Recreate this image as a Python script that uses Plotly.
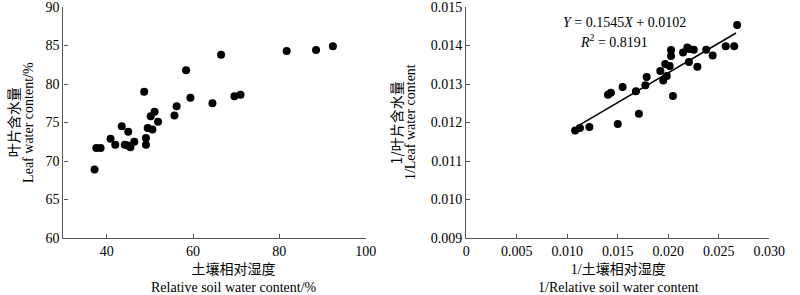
import plotly.graph_objects as go

# ---- data ----
soil_rh = [37.2, 37.6, 38.6, 40.9, 42.0, 43.5, 44.2, 45.0, 44.9, 45.5,
           46.4, 48.7, 49.1, 49.1, 49.5, 50.2, 50.6, 51.1, 51.9, 55.7,
           56.2, 58.4, 59.4, 64.5, 66.5, 69.6, 71.0, 81.7, 88.5, 92.4]
leaf_wc = [68.9, 71.7, 71.7, 72.9, 72.1, 74.5, 72.1, 73.8, 72.0, 71.8,
           72.5, 79.0, 73.0, 72.1, 74.3, 75.8, 74.1, 76.4, 75.1, 75.9,
           77.1, 81.8, 78.2, 77.5, 83.8, 78.4, 78.6, 84.3, 84.4, 84.9]

inv_soil = [0.01078, 0.01126, 0.01219, 0.01403, 0.01432, 0.01500, 0.01548, 0.01680,
            0.01709, 0.01773, 0.01786, 0.01921, 0.01950, 0.01969, 0.01985, 0.02014,
            0.02027, 0.02027, 0.02046, 0.02146, 0.02188, 0.02208, 0.02204, 0.02252,
            0.02288, 0.02375, 0.02439, 0.02568, 0.02652, 0.02681]
inv_leaf = [0.011793, 0.01186, 0.01188, 0.01272, 0.01277, 0.01196, 0.01292, 0.01281,
            0.01223, 0.01297, 0.01318, 0.01334, 0.01309, 0.01352, 0.01321, 0.01347,
            0.01388, 0.01373, 0.01269, 0.01382, 0.01395, 0.01391, 0.01357, 0.01389,
            0.01345, 0.01389, 0.01374, 0.01398, 0.01398, 0.01453]

fit_slope = 0.1545
fit_intercept = 0.0102
fit_x = [0.0109, 0.0267]

left_xticks = [40, 60, 80, 100]
left_yticks = [60, 65, 70, 75, 80, 85, 90]
right_xticks = [0, 0.005, 0.010, 0.015, 0.020, 0.025, 0.030]
right_xticktext = ["0", "0.005", "0.010", "0.015", "0.020", "0.025", "0.030"]
right_yticks = [0.009, 0.010, 0.011, 0.012, 0.013, 0.014, 0.015]
right_yticktext = ["0.009", "0.010", "0.011", "0.012", "0.013", "0.014", "0.015"]

FONT = "Liberation Serif, Times New Roman, Noto Sans CJK SC, serif"
CJK = "Noto Sans CJK SC, Liberation Serif, serif"

fig = go.Figure()
fig.add_trace(go.Scatter(x=soil_rh, y=leaf_wc, mode="markers",
                         marker=dict(color="black", size=8),
                         xaxis="x", yaxis="y", showlegend=False))
fig.add_trace(go.Scatter(x=inv_soil, y=inv_leaf, mode="markers",
                         marker=dict(color="black", size=8),
                         xaxis="x2", yaxis="y2", showlegend=False))
fig.add_trace(go.Scatter(x=fit_x, y=[fit_slope * v + fit_intercept for v in fit_x],
                         mode="lines", line=dict(color="black", width=1.5),
                         xaxis="x2", yaxis="y2", showlegend=False))

axis_common = dict(showline=True, linecolor="#555", linewidth=1.2, ticks="inside",
                   ticklen=4, tickcolor="#555", showgrid=False, zeroline=False,
                   ticklabeloverflow="allow",
                   tickfont=dict(family=FONT, size=14, color="black"))

fig.update_layout(
    width=800, height=295,
    margin=dict(l=0, r=0, t=6, b=57),
    plot_bgcolor="white", paper_bgcolor="white",
    font=dict(family=FONT, color="black"),
    xaxis=dict(domain=[61 / 800, 371 / 800], range=[30, 100], tickvals=left_xticks,
               anchor="y", **axis_common),
    yaxis=dict(domain=[0, 1], range=[60, 90], tickvals=left_yticks,
               anchor="x", **axis_common),
    xaxis2=dict(domain=[474 / 800, 785 / 800], range=[0, 0.030], tickvals=right_xticks,
                ticktext=right_xticktext, anchor="y2", **axis_common),
    yaxis2=dict(domain=[0, 1], range=[0.009, 0.015], tickvals=right_yticks,
                ticktext=right_yticktext, anchor="x2", **axis_common),
)

def ann(text, x, y, font, size, angle=0):
    fig.add_annotation(text=text, x=x, y=y, xref="paper", yref="paper",
                       showarrow=False, textangle=angle, xanchor="center",
                       yanchor="middle", font=dict(family=font, size=size, color="black"))

def py(p):
    return (238 - p) / 232

# x titles (two lines each, in one text)
ann("土壤相对湿度<br>Relative soil water content/%", 236 / 800, py(278.5), FONT, 14)
ann("1/土壤相对湿度<br>1/Relative soil water content", 630 / 800, py(278.5), FONT, 14)
# y titles
ann("叶片含水量", 9 / 800, 0.5, CJK, 14, -90)
ann("Leaf water content/%", 25 / 800, 0.5, FONT, 14, -90)
ann("1/叶片含水量", 402 / 800, 0.5, CJK, 14, -90)
ann("1/Leaf water content", 417 / 800, 0.5, FONT, 14, -90)
# equation
ann("<i>Y</i> = 0.1545<i>X</i> + 0.0102", 636 / 800, py(22), FONT, 14)
ann("<i>R</i><sup>2</sup> = 0.8191", 626 / 800, py(40), FONT, 14)

fig.write_html("out.html")
